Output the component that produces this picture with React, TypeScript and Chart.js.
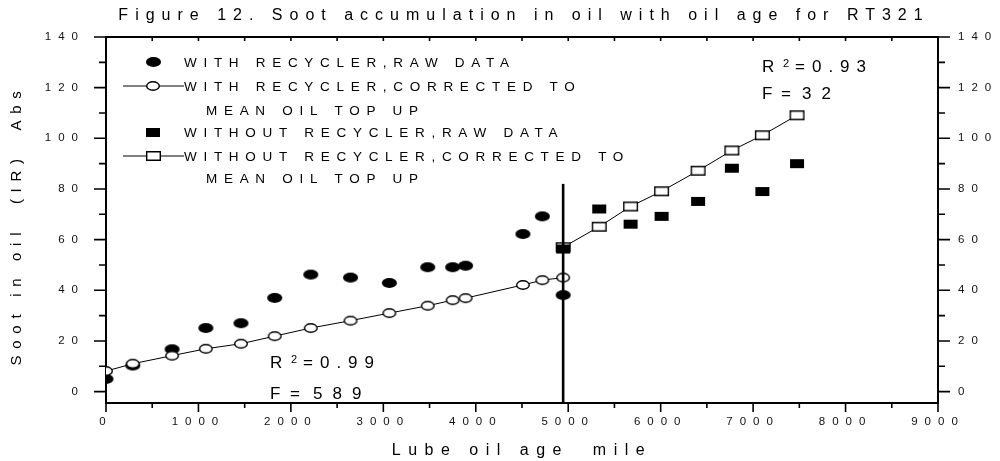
import React, { useEffect, useRef } from 'react';
import { Chart, registerables } from 'chart.js';

Chart.register(...registerables);

// ---- data ----
const mileageWithRecycler = [0, 290, 715, 1080, 1460, 1825, 2215, 2645, 3065, 3480, 3750, 3890, 4510, 4720, 4945];
const sootWithRecyclerRaw = [5.0, 10.3, 16.7, 25.1, 27.0, 37.0, 46.2, 45.0, 42.9, 49.1, 49.1, 49.7, 62.2, 69.2, 38.1];
const sootWithRecyclerCorrected = [8.1, 11.0, 14.2, 16.9, 18.9, 21.9, 25.1, 28.0, 31.0, 33.9, 36.1, 36.9, 42.1, 44.0, 45.0];
const mileageWithoutRecycler = [4945, 5335, 5675, 6010, 6405, 6770, 7100, 7475];
const sootWithoutRecyclerRaw = [56.3, 72.1, 66.1, 69.2, 75.1, 88.2, 79.0, 90.0];
const sootWithoutRecyclerCorrected = [57.0, 65.1, 73.1, 79.1, 87.2, 95.2, 101.2, 109.1];
const dividerMileage = [4945, 4945];
const dividerSoot = [-4.5, 82];

const xTickValues = [0, 1000, 2000, 3000, 4000, 5000, 6000, 7000, 8000, 9000];
const yTickValues = [0, 20, 40, 60, 80, 100, 120, 140];

const TITLE = 'Figure 12. Soot accumulation in oil with oil age for RT321';
const X_TITLE = 'Lube oil age  mile';
const Y_TITLE = 'Soot in oil  (IR)  Abs';
const legendLabels = [
  'WITH RECYCLER,RAW DATA',
  'WITH RECYCLER,CORRECTED TO',
  'WITHOUT RECYCLER,RAW DATA',
  'WITHOUT RECYCLER,CORRECTED TO',
];
const LEGEND_CONT = 'MEAN OIL TOP UP';
const fitWithR2 = '0.99';
const fitWithF = '589';
const fitWithoutR2 = '0.93';
const fitWithoutF = '32';

const FONT = '"Liberation Sans", Arial, Helvetica, sans-serif';

function makeMarker(shape: 'ellipse' | 'rect', filled: boolean, w: number, h: number) {
  const c = document.createElement('canvas');
  c.width = w + 2;
  c.height = h + 2;
  const g = c.getContext('2d')!;
  g.lineWidth = 1.4;
  g.strokeStyle = '#000';
  g.fillStyle = filled ? '#000' : '#fff';
  const cx = c.width / 2;
  const cy = c.height / 2;
  g.beginPath();
  if (shape === 'ellipse') {
    g.ellipse(cx, cy, w / 2 - (filled ? 0 : 0.7), h / 2 - (filled ? 0 : 0.7), 0, 0, Math.PI * 2);
  } else {
    if (filled) g.rect(cx - w / 2, cy - h / 2, w, h);
    else g.rect(cx - w / 2 + 0.7, cy - h / 2 + 0.7, w - 1.4, h - 1.4);
  }
  g.fill();
  if (!filled) g.stroke();
  return c;
}

function spacedText(ctx: CanvasRenderingContext2D, text: string, x: number, y: number, font: string, spacing: number, align: CanvasTextAlign = 'left', baseline: CanvasTextBaseline = 'alphabetic') {
  ctx.save();
  ctx.font = font;
  (ctx as any).letterSpacing = spacing + 'px';
  ctx.textAlign = align;
  ctx.textBaseline = baseline;
  ctx.fillStyle = '#000';
  ctx.fillText(text, x, y);
  ctx.restore();
}

export default function App() {
  const ref = useRef<HTMLCanvasElement | null>(null);

  useEffect(() => {
    if (!ref.current) return;
    const filledEllipse = makeMarker('ellipse', true, 15, 10);
    const openEllipse = makeMarker('ellipse', false, 14, 10);
    const filledRect = makeMarker('rect', true, 14, 9);
    const openRect = makeMarker('rect', false, 15, 10);

    const toPts = (xs: number[], ys: number[]) => xs.map((x, i) => ({ x, y: ys[i] }));

    const decor = {
      id: 'decor',
      beforeDraw(chart: any) {
        (chart.ctx as any).letterSpacing = '7px';
      },
      afterDraw(chart: any) {
        const ctx: CanvasRenderingContext2D = chart.ctx;
        const { left, right, top, bottom } = chart.chartArea;
        const xs = chart.scales.x;
        const ys = chart.scales.y;
        ctx.save();
        ctx.strokeStyle = '#000';
        // top frame line
        ctx.lineWidth = 2;
        ctx.beginPath();
        ctx.moveTo(left - 1, top);
        ctx.lineTo(right + 1, top);
        ctx.stroke();
        ctx.lineWidth = 1.6;
        ctx.beginPath();
        for (let v = 0; v <= 140; v += 10) {
          const py = ys.getPixelForValue(v);
          const len = v % 20 === 0 ? 12 : 7;
          ctx.moveTo(left - len, py);
          ctx.lineTo(left, py);
          ctx.moveTo(right, py);
          ctx.lineTo(right + len, py);
        }
        for (let v = 0; v <= 9000; v += 500) {
          const px = xs.getPixelForValue(v);
          const len = v % 1000 === 0 ? 9 : 5;
          ctx.moveTo(px, bottom);
          ctx.lineTo(px, bottom + len);
          if (v > 0 && v < 9000) {
            ctx.moveTo(px, top);
            ctx.lineTo(px, top + 4);
          }
        }
        ctx.stroke();

        // legend
        const rows = [62, 86, 110, 132, 156, 178];
        const mx = 153;
        const tx = 184;
        const lf = `13.5px ${FONT}`;
        const ls = 6.7;
        ctx.lineWidth = 1;
        ctx.beginPath();
        ctx.moveTo(123, rows[1]);
        ctx.lineTo(184, rows[1]);
        ctx.moveTo(123, rows[4]);
        ctx.lineTo(184, rows[4]);
        ctx.stroke();
        const drawM = (m: HTMLCanvasElement, y: number) => ctx.drawImage(m, Math.round(mx - m.width / 2), Math.round(y - m.height / 2));
        drawM(filledEllipse, rows[0]);
        drawM(openEllipse, rows[1]);
        drawM(filledRect, rows[3]);
        drawM(openRect, rows[4]);
        spacedText(ctx, legendLabels[0], tx, rows[0] + 5, lf, ls);
        spacedText(ctx, legendLabels[1], tx, rows[1] + 5, lf, ls);
        spacedText(ctx, LEGEND_CONT, 206, rows[2] + 5, lf, ls);
        spacedText(ctx, legendLabels[2], tx, rows[3] + 5, lf, ls);
        spacedText(ctx, legendLabels[3], tx, rows[4] + 5, lf, ls);
        spacedText(ctx, LEGEND_CONT, 206, rows[5] + 5, lf, ls);

        // title
        spacedText(ctx, TITLE, 524, 20, `16px ${FONT}`, 7, 'center');
        // axis titles
        spacedText(ctx, X_TITLE, 522, 455, `16px ${FONT}`, 7.5, 'center');
        ctx.save();
        ctx.translate(17, 225);
        ctx.rotate(-Math.PI / 2);
        spacedText(ctx, Y_TITLE, 0, 0, `15px ${FONT}`, 6.7, 'center', 'middle');
        ctx.restore();

        // fit annotations
        const af = `17px ${FONT}`;
        const sf = `11px ${FONT}`;
        const fit = (x: number, yR: number, yF: number, r2: string, f: string, eqOff: number, numOff: number) => {
          spacedText(ctx, 'R', x, yR, af, 0);
          spacedText(ctx, '2', x + 21, yR - 5, sf, 0);
          spacedText(ctx, '=' + r2, x + 33, yR, af, 7);
          spacedText(ctx, 'F', x, yF, af, 0);
          spacedText(ctx, '=', x + eqOff, yF, af, 0);
          spacedText(ctx, f, x + numOff, yF, af, 10);
        };
        fit(270, 368, 399, fitWithR2, fitWithF, 20, 43);
        fit(762, 72, 98.5, fitWithoutR2, fitWithoutF, 19, 40);
        ctx.restore();
      },
    };

    const tickFont = { family: FONT, size: 11.5 };
    const plain = (v: any) => String(v);
    const chart = new Chart(ref.current, {
      type: 'scatter',
      data: {
        datasets: [
          {
            label: 'divider',
            data: toPts(dividerMileage, dividerSoot),
            showLine: true,
            borderColor: '#000',
            borderWidth: 2.6,
            pointRadius: 0,
          },
          {
            label: legendLabels[2],
            data: toPts(mileageWithoutRecycler, sootWithoutRecyclerRaw),
            pointStyle: filledRect as any,
            showLine: false,
          },
          {
            label: legendLabels[3],
            data: toPts(mileageWithoutRecycler, sootWithoutRecyclerCorrected),
            pointStyle: openRect as any,
            showLine: true,
            borderColor: '#000',
            borderWidth: 1,
          },
          {
            label: legendLabels[1],
            data: toPts(mileageWithRecycler, sootWithRecyclerCorrected),
            pointStyle: openEllipse as any,
            showLine: true,
            borderColor: '#000',
            borderWidth: 1,
          },
          {
            label: legendLabels[0],
            data: toPts(mileageWithRecycler, sootWithRecyclerRaw),
            pointStyle: filledEllipse as any,
            showLine: false,
          },
        ],
      },
      options: {
        animation: false,
        responsive: false,
        devicePixelRatio: 1,
        layout: { padding: { top: 37, left: 0, right: 0, bottom: 0 } },
        plugins: { legend: { display: false }, tooltip: { enabled: false }, title: { display: false } },
        scales: {
          x: {
            type: 'linear',
            position: 'bottom',
            min: 0,
            max: 9000,
            afterBuildTicks: (s: any) => { s.ticks = xTickValues.map((v) => ({ value: v })); },
            afterFit: (s: any) => { s.height = 58; },
            grid: { display: false, drawTicks: false },
            border: { display: true, color: '#000', width: 2 },
            ticks: { font: tickFont, color: '#111', padding: 12, maxRotation: 0, autoSkip: false, callback: plain },
          },
          y: {
            type: 'linear',
            position: 'left',
            min: -4.5,
            max: 140,
            afterBuildTicks: (s: any) => { s.ticks = yTickValues.map((v) => ({ value: v })); },
            afterFit: (s: any) => { s.width = 106; },
            grid: { display: false, drawTicks: false },
            border: { display: true, color: '#000', width: 2 },
            ticks: { font: tickFont, color: '#111', padding: 21, autoSkip: false, callback: plain },
          },
          y2: {
            type: 'linear',
            position: 'right',
            min: -4.5,
            max: 140,
            afterBuildTicks: (s: any) => { s.ticks = yTickValues.map((v) => ({ value: v })); },
            afterFit: (s: any) => { s.width = 62; },
            grid: { display: false, drawTicks: false },
            border: { display: true, color: '#000', width: 2 },
            ticks: { font: tickFont, color: '#111', padding: 20, autoSkip: false, callback: plain },
          },
        },
      },
      plugins: [decor],
    } as any);
    return () => chart.destroy();
  }, []);

  return (
    <div style={{ position: 'absolute', left: 0, top: 0, width: 1000, height: 461, background: '#fff' }}>
      <canvas ref={ref} width={1000} height={461} style={{ display: 'block', width: 1000, height: 461 }} />
    </div>
  );
}
